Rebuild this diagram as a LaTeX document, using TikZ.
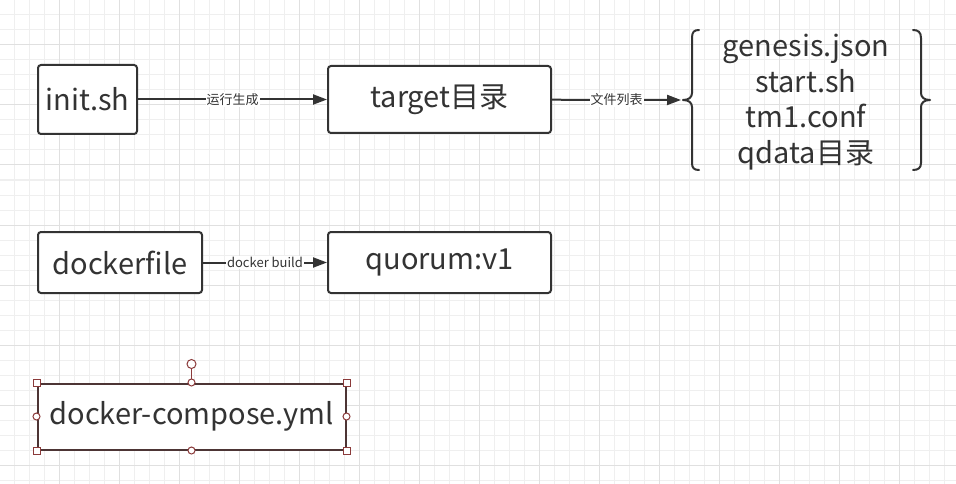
\documentclass[tikz,border=0pt]{standalone}
\usepackage{fontspec}
\setmainfont{Noto Sans CJK SC}
\usetikzlibrary{arrows.meta}
\definecolor{minorg}{HTML}{EFEFEF}
\definecolor{majorg}{HTML}{E0E0E0}
\definecolor{ink}{HTML}{333333}
\definecolor{sel}{HTML}{8B3A3A}
\definecolor{selbox}{HTML}{4D3535}
\begin{document}
\begin{tikzpicture}[x=1pt,y=-1pt,
  box/.style={draw=ink,line width=2pt,rounded corners=3pt,fill=white,text=ink,
    font=\fontsize{29}{32}\selectfont,inner sep=0pt},
  conn/.style={draw=ink,line width=2pt,-{Triangle[length=14pt,width=10pt]}},
  lbl/.style={fill=white,text=ink,font=\fontsize{13}{15}\selectfont,inner sep=1pt},
  listtxt/.style={text=ink,font=\fontsize{29}{32}\selectfont,inner sep=0pt,anchor=base},
  brace/.style={draw=ink,line width=2pt,line cap=round,line join=round},
  hsq/.style={draw=sel,fill=white,line width=1pt,minimum size=7pt,inner sep=0pt},
  hci/.style={draw=sel,fill=white,line width=1pt,circle,minimum size=7pt,inner sep=0pt}]
\useasboundingbox (0,0) rectangle (956,484);
\fill[white] (0,0) rectangle (956,484);
% grid
\foreach \k in {0,...,63} {\draw[minorg,line width=1pt] ({14+15*\k},0) -- ({14+15*\k},484);}
\foreach \k in {0,...,32} {\draw[minorg,line width=1pt] (0,{15*\k}) -- (956,{15*\k});}
\foreach \k in {0,...,15} {\draw[majorg,line width=1pt] ({59+60*\k},0) -- ({59+60*\k},484);}
\foreach \k in {0,...,7} {\draw[majorg,line width=1pt] (0,{45+60*\k}) -- (956,{45+60*\k});}
% boxes
\node[box,minimum width=99pt,minimum height=69pt] (init) at (87.5,99.5) {init.sh};
\node[box,minimum width=223pt,minimum height=67pt] (target) at (439.5,99.5) {target目录};
\node[box,minimum width=164pt,minimum height=61pt] (dockerfile) at (120,262.5) {dockerfile};
\node[box,minimum width=223pt,minimum height=61pt] (quorum) at (439.5,262.5) {quorum:v1};
\node[box,draw=selbox,rounded corners=0pt,minimum width=308pt,minimum height=66pt] (compose) at (191.5,416.5) {docker-compose.yml};
% list with braces
\coordinate (tip) at (681,100);
\draw[brace] (699,30) .. controls (694,30) and (692,32) .. (692,38) -- (692,93)
  .. controls (692,97) and (689,100) .. (683,100)
  .. controls (689,100) and (692,103) .. (692,107) -- (692,163)
  .. controls (692,168) and (694,170) .. (699,170);
\draw[brace] (913,30) .. controls (918,30) and (921,32) .. (921,38) -- (921,93)
  .. controls (921,97) and (924,100) .. (930,100)
  .. controls (924,100) and (921,103) .. (921,107) -- (921,163)
  .. controls (921,168) and (918,170) .. (913,170);
\node[listtxt] (f1) at (806,57) {genesis.json};
\node[listtxt] (f2) at (806,93) {start.sh};
\node[listtxt] (f3) at (806,128) {tm1.conf};
\node[listtxt] (f4) at (806,164) {qdata目录};
% connectors
\draw[conn] (init) -- node[lbl] (l1) {运行生成} (target);
\draw[conn] (target) -- node[lbl] (l2) {文件列表} (tip);
\draw[conn] (dockerfile) -- node[lbl] (l3) {docker build} (quorum);
% selection handles
\draw[sel,line width=1pt] (191.5,368) -- (compose.north);
\node[hci,minimum size=9pt] (h0) at (191.5,364) {};
\node[hsq] (h1) at (compose.north west) {};
\node[hsq] (h2) at (compose.north east) {};
\node[hsq] (h3) at (compose.south west) {};
\node[hsq] (h4) at (compose.south east) {};
\node[hci] (h5) at (compose.north) {};
\node[hci] (h6) at (compose.south) {};
\node[hci] (h7) at (compose.west) {};
\node[hci] (h8) at (compose.east) {};
\end{tikzpicture}
\end{document}
